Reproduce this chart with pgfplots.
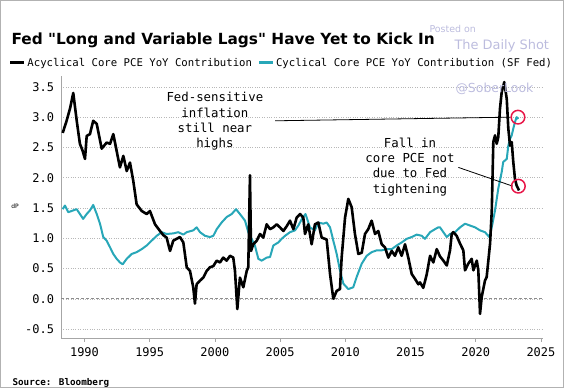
\documentclass[border=0pt]{standalone}
\usepackage{pgfplots}
\pgfplotsset{compat=1.18}
\usepackage{pgfplotstable}
\usepackage{fontspec}
\setmainfont{DejaVu Sans}
\newfontfamily\monofont{DejaVu Sans Mono}
\definecolor{cyc}{RGB}{40,167,184}
\definecolor{circ}{RGB}{232,22,72}
\definecolor{wm}{RGB}{188,188,222}

\pgfplotstableread{
year val
1988.33 2.74
1988.63 2.94
1988.90 3.15
1989.14 3.40
1989.40 2.95
1989.65 2.56
1989.85 2.45
1990.04 2.31
1990.17 2.69
1990.42 2.72
1990.67 2.94
1990.94 2.89
1991.32 2.48
1991.70 2.58
1991.96 2.56
1992.21 2.72
1992.47 2.44
1992.72 2.17
1992.98 2.36
1993.24 2.11
1993.49 2.25
1993.74 1.95
1994.00 1.56
1994.39 1.45
1994.77 1.40
1995.02 1.45
1995.41 1.23
1995.79 1.12
1996.05 1.05
1996.30 1.01
1996.56 0.79
1996.81 0.96
1997.32 1.02
1997.58 0.93
1997.84 0.52
1998.09 0.46
1998.34 0.19
1998.47 -0.08
1998.60 0.24
1998.86 0.30
1999.11 0.35
1999.37 0.46
1999.62 0.52
1999.88 0.54
2000.14 0.63
2000.39 0.60
2000.64 0.68
2000.90 0.63
2001.16 0.71
2001.41 0.68
2001.54 0.46
2001.72 -0.17
2001.92 0.35
2002.18 0.19
2002.44 0.46
2002.56 0.52
2002.69 2.04
2002.77 0.79
2002.94 0.90
2003.21 0.96
2003.46 1.07
2003.71 1.01
2003.97 1.23
2004.23 1.15
2004.48 1.18
2004.74 1.23
2004.99 1.18
2005.25 1.12
2005.51 1.20
2005.76 1.29
2006.02 1.15
2006.27 1.34
2006.53 1.40
2006.78 1.34
2006.91 1.07
2007.16 1.23
2007.42 0.90
2007.67 1.23
2007.93 1.26
2008.19 1.01
2008.57 0.98
2008.83 0.41
2009.08 0.00
2009.34 0.13
2009.59 0.16
2009.72 0.68
2009.98 1.34
2010.23 1.65
2010.49 1.51
2010.74 1.07
2011.00 0.74
2011.26 0.76
2011.51 1.07
2011.76 1.15
2012.02 1.29
2012.28 1.07
2012.53 1.12
2012.79 0.90
2013.04 0.85
2013.30 0.68
2013.56 0.79
2013.81 0.71
2014.06 0.85
2014.32 0.71
2014.58 0.90
2014.83 0.68
2015.09 0.41
2015.34 0.33
2015.60 0.24
2015.73 0.27
2015.98 0.18
2016.24 0.40
2016.50 0.71
2016.75 0.60
2017.01 0.82
2017.26 0.70
2017.52 0.63
2017.78 0.55
2018.03 0.80
2018.16 1.07
2018.28 1.10
2018.54 1.04
2018.80 0.91
2019.05 0.80
2019.18 0.47
2019.43 0.58
2019.69 0.66
2019.82 0.47
2020.08 0.63
2020.20 0.47
2020.33 -0.25
2020.46 0.03
2020.71 0.30
2020.84 0.36
2021.10 0.91
2021.23 1.45
2021.35 2.59
2021.48 2.70
2021.61 2.56
2021.73 2.67
2021.86 3.14
2021.99 3.41
2022.19 3.58
2022.38 3.30
2022.50 2.81
2022.63 2.53
2022.76 2.59
2022.88 2.26
2023.01 1.98
2023.14 1.87
2023.32 1.79
}\acyc

\pgfplotstableread{
year val
1988.33 1.48
1988.50 1.54
1988.76 1.43
1989.14 1.46
1989.40 1.48
1989.65 1.40
1989.90 1.32
1990.17 1.40
1990.42 1.46
1990.67 1.55
1990.94 1.40
1991.19 1.24
1991.44 1.02
1991.70 0.96
1991.96 0.85
1992.21 0.74
1992.47 0.66
1992.72 0.60
1992.93 0.57
1993.24 0.66
1993.62 0.74
1994.00 0.77
1994.39 0.82
1994.77 0.88
1995.15 0.96
1995.54 1.04
1995.92 1.10
1996.30 1.07
1996.81 1.08
1997.19 1.10
1997.58 1.06
1997.84 1.10
1998.34 1.13
1998.60 1.18
1998.86 1.10
1999.24 1.04
1999.62 1.02
1999.88 1.04
2000.14 1.15
2000.52 1.26
2000.90 1.35
2001.29 1.40
2001.62 1.48
2001.92 1.40
2002.31 1.29
2002.56 1.10
2002.82 0.99
2003.07 0.88
2003.33 0.66
2003.59 0.63
2003.97 0.68
2004.23 0.69
2004.48 0.88
2004.86 0.93
2005.12 0.99
2005.38 1.04
2005.76 1.10
2006.14 1.13
2006.40 1.21
2006.70 1.33
2006.95 1.40
2007.29 1.18
2007.67 1.13
2007.93 1.26
2008.31 1.24
2008.57 1.26
2008.83 1.18
2009.08 0.96
2009.34 0.74
2009.59 0.47
2009.85 0.25
2010.23 0.16
2010.61 0.19
2010.87 0.36
2011.26 0.58
2011.64 0.71
2012.02 0.77
2012.41 0.80
2012.79 0.80
2013.17 0.82
2013.56 0.82
2013.94 0.88
2014.32 0.93
2014.71 0.99
2015.09 1.02
2015.48 1.06
2015.86 1.04
2016.11 0.99
2016.50 1.10
2016.88 1.15
2017.13 1.18
2017.26 1.18
2017.52 1.10
2017.78 1.02
2018.03 1.07
2018.41 1.10
2018.80 1.18
2019.18 1.24
2019.56 1.21
2019.95 1.18
2020.33 1.13
2020.71 1.10
2021.04 1.02
2021.23 1.18
2021.48 1.46
2021.73 1.82
2021.99 2.09
2022.11 2.26
2022.38 2.31
2022.50 2.53
2022.63 2.64
2022.76 2.70
2022.88 2.81
2023.01 2.92
2023.14 3.00
2023.26 2.97
}\cycl

\begin{document}
\begin{tikzpicture}[x=1bp,y=1bp]
\path[use as bounding box] (0,0) rectangle (564,388);
\draw[black!30, line width=1.2bp] (0.6,0.6) rectangle (563.4,387.4);

\begin{axis}[
  at={(61bp,49.7bp)}, anchor=south west,
  scale only axis, width=482bp, height=262.3bp,
  xmin=1988.2, xmax=2025.16, ymin=-0.653, ymax=3.68,
  axis x line*=bottom, axis y line*=left,
  axis line style={-, draw=black!35, line width=0.8bp},
  xtick={1990,1995,2000,2005,2010,2015,2020,2025},
  xticklabels={1990,1995,2000,2005,2010,2015,2020,2025},
  ytick={-0.5,0,0.5,1,1.5,2,2.5,3,3.5},
  yticklabels={-0.5,0.0,0.5,1.0,1.5,2.0,2.5,3.0,3.5},
  tick label style={font=\monofont\fontsize{12}{12}\selectfont, text=black},
  xticklabel style={yshift=-2bp},
  xtick style={draw=black!35, line width=0.6bp},
  ytick style={draw=none},
  tick align=outside, major tick length=3.5bp,
  ymajorgrids, major grid style={dotted, black!28, line width=0.5bp},
  clip=false,
  legend style={at={(axis description cs:-0.108,1.0496)}, anchor=west,
    draw=none, fill=none, inner sep=0pt, outer sep=0pt,
    font=\monofont\fontsize{10.7}{10.7}\selectfont,
    legend cell align=left,
    nodes={inner sep=1.5bp},
    /tikz/every even column/.append style={column sep=4bp}},
  legend columns=2,
  legend image code/.code={\draw[#1, line width=3bp] (0bp,0bp) -- (14bp,0bp);},
]
\addlegendimage{black}
\addlegendentry{Acyclical Core PCE YoY Contribution}
\addlegendimage{cyc}
\addlegendentry{Cyclical Core PCE YoY Contribution (SF Fed)}

\addplot[forget plot, densely dashed, black!45, line width=0.7bp] coordinates {(1988.2,0) (2025.16,0)};

\addplot[forget plot, cyc, line width=2bp, line join=round] table[x=year,y=val] {\cycl};
\addplot[forget plot, black, line width=2.6bp, line join=round] table[x=year,y=val] {\acyc};

\addplot[forget plot, black, line width=0.8bp] coordinates {(2004.61,2.94) (2022.67,3.0)};
\addplot[forget plot, black, line width=0.8bp] coordinates {(2018.67,2.17) (2022.84,1.86)};

\addplot[forget plot, only marks, mark=o, mark size=6.8bp, circ, line width=1.5bp]
  coordinates {(2023.24,3.0) (2023.27,1.86)};

\node[align=center, font=\monofont\fontsize{12.4}{15.5}\selectfont] at (axis cs:2000.0,2.93)
  {Fed-sensitive\\inflation\\still near\\highs};
\node[align=center, font=\monofont\fontsize{12.4}{15.5}\selectfont] at (axis cs:2014.96,2.18)
  {Fall in\\core PCE not\\due to Fed\\tightening};
\end{axis}

\node[anchor=west, font=\bfseries\fontsize{15.4}{15.4}\selectfont] at (8,348) {Fed \textquotedbl Long and Variable Lags\textquotedbl\ Have Yet to Kick In};
\node[anchor=west, text=wm, font=\fontsize{9.5}{9.5}\selectfont] at (426,359) {Posted on};
\node[anchor=west, text=wm, font=\fontsize{13}{13}\selectfont] at (451,342) {The Daily Shot};
\node[anchor=west, text=wm, font=\fontsize{12.5}{12.5}\selectfont] at (452,299) {@SoberLook};
\node[font=\fontsize{6}{6}\selectfont] at (15,181.3) {dP};
\node[anchor=west, font=\monofont\bfseries\fontsize{9.3}{9.3}\selectfont] at (9,5.5) {Source: Bloomberg};
\end{tikzpicture}
\end{document}
